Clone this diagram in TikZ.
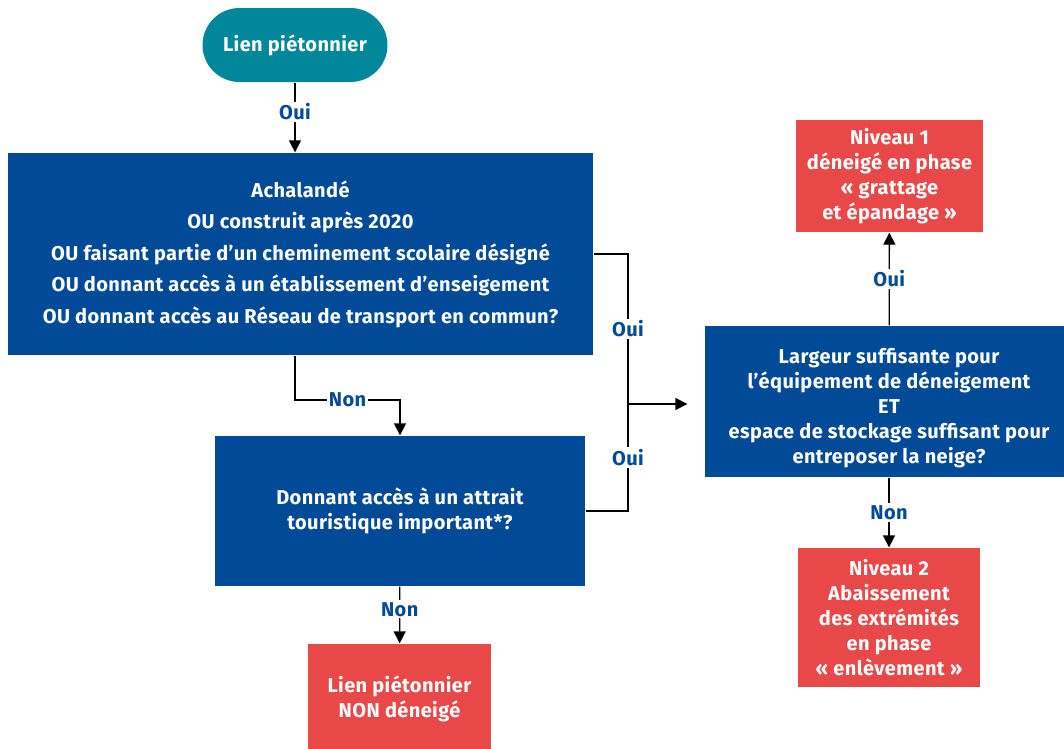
\documentclass[tikz,border=0pt]{standalone}
\usepackage{fontspec}
\setmainfont[LetterSpace=2]{Fira Sans}
\usetikzlibrary{arrows.meta}
\definecolor{sarcelle}{HTML}{00879A}
\definecolor{bleu}{HTML}{004A97}
\definecolor{rouge}{HTML}{E84848}
\tikzstyle{terminal}=[rectangle, rounded corners=37pt, fill=sarcelle, text=white, minimum width=185pt, minimum height=74pt]
\tikzstyle{question}=[rectangle, fill=bleu, text=white, align=center]
\tikzstyle{niveau}=[rectangle, fill=rouge, text=white, align=center]
\tikzstyle{reponse}=[fill=white, text=bleu, inner sep=2pt]
\tikzstyle{fleche}=[-{Triangle[width=12pt, length=12pt]}]

\begin{document}
\begin{tikzpicture}[x=1pt, y=-1pt, line width=1.3pt, font=\fontsize{20}{25}\selectfont\bfseries]
                    \useasboundingbox (0,0) rectangle (1064,748);
                    \node[terminal] (start) at (295,45) {Lien piétonnier};
                    \node[question, minimum width=585pt, minimum height=202pt] (q1) at (300.5,254) {Achalandé\\[6.5pt] OU construit après 2020\\[6.5pt] OU faisant partie d’un cheminement scolaire désigné\\[6.5pt] OU donnant accès à un établissement d’enseigement\\[6.5pt] OU donnant accès au Réseau de transport en commun?};
                    \node[question, minimum width=370pt, minimum height=150pt] (q2) at (400,511) {Donnant accès à un attrait\\touristique important*?};
                    \node[question, minimum width=368pt, minimum height=151pt] (q3) at (889,401.5) {\rule{0pt}{29pt}Largeur suffisante pour\\l’équipement de déneigement\\ET\\espace de stockage suffisant pour\\entreposer la neige?};
                    \node[niveau, minimum width=187pt, minimum height=112pt] (n1) at (889.5,176) {Niveau 1\\déneigé en phase\\« grattage\\et épandage »};
                    \node[niveau, minimum width=182pt, minimum height=139pt] (n2) at (889,617.5) {Niveau 2\\Abaissement\\des extrémités\\en phase\\« enlèvement »};
                    \node[niveau, minimum width=183pt, minimum height=110pt] (nn) at (399.5,699) {Lien piétonnier\\NON déneigé};
                    \coordinate (k1) at (400,400);
                    \coordinate (j) at (628,404);
                    \draw[fleche] (start) -- node[reponse, pos=0.42] {Oui} (start |- q1.north);
                    \draw[fleche] (start |- q1.south) |- node[reponse, pos=0.75] {Non} (k1) -- (q2.north);
                    \draw (q1.east) -| node[reponse, pos=0.75] {Oui} (j);
                    \draw (q2.east) -| node[reponse, pos=0.75] {Oui} (j);
                    \draw[fleche, shorten >=17pt] (j) -- (j -| q3.west);
                    \draw[fleche] (q3) -- node[reponse] {Oui} (n1);
                    \draw[fleche] (q3) -- node[reponse] {Non} (n2);
                    \draw[fleche] (q2) -- node[reponse, pos=0.4] {Non} (nn);
                \end{tikzpicture}
\end{document}
